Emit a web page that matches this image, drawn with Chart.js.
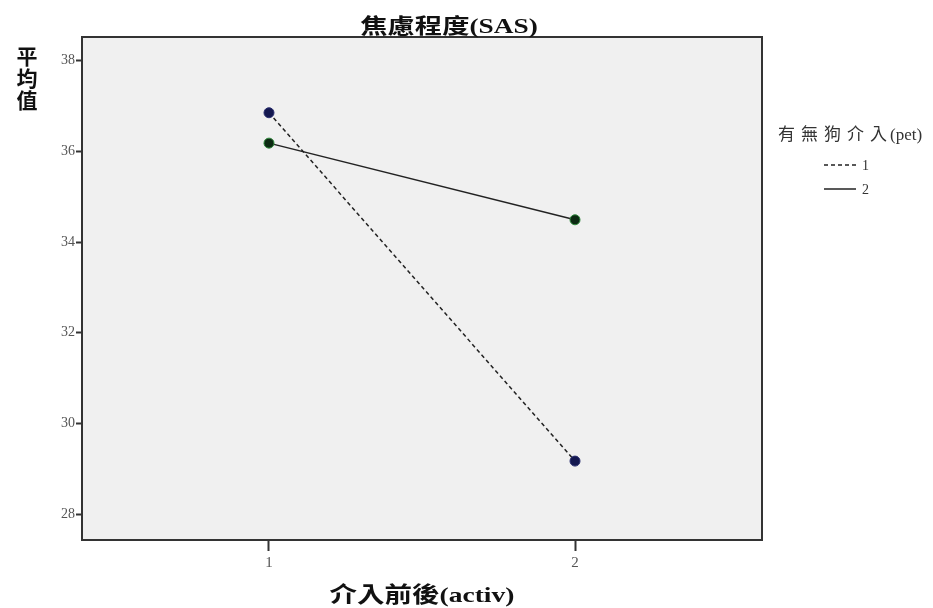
<!DOCTYPE html>
<html>
<head>
<meta charset="utf-8">
<script src="https://cdn.jsdelivr.net/npm/chart.js@4"></script>
<style>
  html, body { margin: 0; padding: 0; background: #fff; }
  #wrap { width: 933px; height: 608px; }
</style>
</head>
<body>
<div id="wrap"><canvas id="chart" width="933" height="608"></canvas></div>
<script>
// categories on x (介入前後) and the two group means
const categories = [1, 2];
const pet1 = [36.85, 29.17];   // 有無狗介入 = 1 (dashed)
const pet2 = [36.18, 34.49];   // 有無狗介入 = 2 (solid)
const yTicks = [28, 30, 32, 34, 36, 38];

const chartTitle = '焦慮程度(SAS)';
const xTitle = '介入前後(activ)';
const yTitle = ['平', '均', '值'];
const legendTitle = ['有無狗介入', '(pet)'];
const legendLabels = ['1', '2'];

const serif = '"Liberation Serif", "DejaVu Serif", "Noto Sans CJK TC", serif';

function toPoints(values) {
    return categories.map((c, i) => ({ x: c, y: values[i] }));
}

// text stretched horizontally, like the original export
function wideText(ctx, text, cx, y, sx) {
    ctx.save();
    ctx.translate(cx, y);
    ctx.scale(sx, 1);
    ctx.fillText(text, 0, 0);
    ctx.restore();
}

// background + frame, texts and legend
const decor = {
    id: 'decor',
    beforeDraw(chart) {
        const { ctx, chartArea: a } = chart;
        ctx.save();
        ctx.fillStyle = '#f0f0f0';
        ctx.fillRect(a.left, a.top, a.right - a.left, a.bottom - a.top);
        ctx.restore();
    },
    afterDraw(chart) {
        const { ctx, chartArea: a } = chart;
        ctx.save();
        ctx.strokeStyle = '#333';
        ctx.lineWidth = 2;
        ctx.strokeRect(a.left, a.top, a.right - a.left, a.bottom - a.top);

        ctx.fillStyle = '#111';
        ctx.textAlign = 'center';
        ctx.textBaseline = 'alphabetic';
        ctx.font = 'bold 21px ' + serif;
        wideText(ctx, chartTitle, 449, 33, 1.3);
        ctx.font = 'bold 22px ' + serif;
        wideText(ctx, xTitle, 422, 602, 1.25);

        ctx.font = 'bold 21px ' + serif;
        yTitle.forEach((ch, i) => ctx.fillText(ch, 27, 64 + i * 22));

        // legend
        ctx.fillStyle = '#333';
        ctx.textAlign = 'left';
        ctx.font = '17px ' + serif;
        ctx.letterSpacing = '6px';
        ctx.fillText(legendTitle[0], 778, 140);
        const w = ctx.measureText(legendTitle[0]).width;
        ctx.letterSpacing = '0px';
        ctx.fillText(legendTitle[1], 778 + w - 3, 140);
        ctx.font = '14px ' + serif;
        const rows = [165, 189];
        rows.forEach((y, i) => {
            ctx.beginPath();
            ctx.strokeStyle = '#222';
            ctx.lineWidth = 1.5;
            ctx.setLineDash(i === 0 ? [4, 3] : []);
            ctx.moveTo(824, y);
            ctx.lineTo(856, y);
            ctx.stroke();
            ctx.fillText(legendLabels[i], 862, y + 5);
        });
        ctx.restore();
    }
};

new Chart(document.getElementById('chart').getContext('2d'), {
    type: 'scatter',
    data: {
        datasets: [
            {
                label: legendLabels[0],
                data: toPoints(pet1),
                showLine: true,
                borderColor: '#222',
                borderWidth: 1.5,
                borderDash: [4, 3],
                pointRadius: 5,
                pointBackgroundColor: '#141850',
                pointBorderColor: '#2a2f70',
                pointBorderWidth: 1
            },
            {
                label: legendLabels[1],
                data: toPoints(pet2),
                showLine: true,
                borderColor: '#222',
                borderWidth: 1.5,
                pointRadius: 5,
                pointBackgroundColor: '#0c2a12',
                pointBorderColor: '#2f8a3c',
                pointBorderWidth: 1
            }
        ]
    },
    options: {
        responsive: false,
        animation: false,
        layout: { padding: { left: 0, right: 171, top: 37, bottom: 0 } },
        plugins: { legend: { display: false }, tooltip: { enabled: false } },
        scales: {
            x: {
                type: 'linear',
                min: 0.389,
                max: 2.611,
                afterFit(scale) { scale.height = 68; },
                afterBuildTicks(scale) { scale.ticks = categories.map(v => ({ value: v })); },
                grid: { drawOnChartArea: false, drawTicks: true, tickLength: 11, tickColor: '#333', tickWidth: 2 },
                border: { display: false },
                ticks: { color: '#555', font: { family: serif, size: 15 }, padding: 3 }
            },
            y: {
                min: 27.43,
                max: 38.52,
                afterFit(scale) { scale.width = 82; },
                afterBuildTicks(scale) { scale.ticks = yTicks.map(v => ({ value: v })); },
                grid: { drawOnChartArea: false, drawTicks: true, tickLength: 6, tickColor: '#333', tickWidth: 2 },
                border: { display: false },
                ticks: { color: '#555', font: { family: serif, size: 14 }, padding: 1 }
            }
        }
    },
    plugins: [decor]
});
</script>
</body>
</html>
